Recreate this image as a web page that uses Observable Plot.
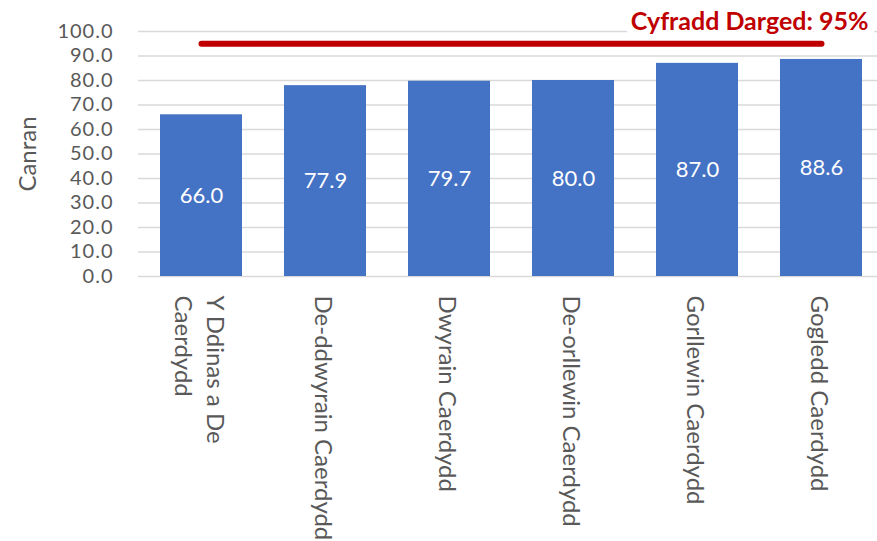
<!DOCTYPE html>
<html>
<head>
<meta charset="utf-8">
<script src="https://cdn.jsdelivr.net/npm/d3@7"></script>
<script src="https://cdn.jsdelivr.net/npm/@observablehq/plot@0.6"></script>
<style>
  html, body { margin: 0; padding: 0; background: #fff; }
  g[aria-label="y-axis tick label"] text { letter-spacing: 1px; }
</style>
</head>
<body>
<div id="chart"></div>
<script>
const categories = ["Y Ddinas a De\nCaerdydd", "De-ddwyrain Caerdydd", "Dwyrain Caerdydd", "De-orllewin Caerdydd", "Gorllewin Caerdydd", "Gogledd Caerdydd"];
const values = [66.0, 77.9, 79.7, 80.0, 87.0, 88.6];
const yTicks = [0, 10, 20, 30, 40, 50, 60, 70, 80, 90, 100];
const target = 95;
const targetLabel = "Cyfradd Darged: 95%";
const yLabel = "Canran";

const data = categories.map((c, i) => ({cat: c, val: values[i]}));
const targetLine = [categories[0], categories[categories.length - 1]].map(c => ({cat: c, val: target}));

const chart = Plot.plot({
  width: 877,
  height: 541,
  marginLeft: 138,
  marginRight: -6,
  marginTop: 31,
  marginBottom: 265,
  style: {fontFamily: "Lato", fontSize: "24px", color: "#595959", background: "#fff"},
  x: {domain: categories, paddingInner: 0.34, paddingOuter: 0.17},
  y: {domain: [0, 100]},
  marks: [
    Plot.gridY(yTicks, {stroke: "#d9d9d9", strokeOpacity: 1, strokeWidth: 1.5}),
    Plot.text([targetLabel], {
      frameAnchor: "top-right", dx: -15, dy: -19, text: d => d,
      fill: "#c00000", fontWeight: "bold", fontSize: 25, textAnchor: "end",
      stroke: "#fff", strokeWidth: 16, paintOrder: "stroke"
    }),
    Plot.barY(data, {x: "cat", y: "val", fill: "#4472c4"}),
    Plot.text(data, {x: "cat", y: d => d.val / 2, text: d => d3.format(".1f")(d.val), fill: "#fff", fontSize: 22}),
    Plot.line(targetLine, {x: "cat", y: "val", stroke: "#c00000", strokeWidth: 6, strokeLinecap: "round"}),
    Plot.axisY({ticks: yTicks, tickFormat: d3.format(".1f"), tickSize: 0, tickPadding: 25, fontSize: 20, label: null}),
    Plot.axisY({ticks: [], tickSize: 0, fontSize: 24,
      label: yLabel, labelAnchor: "center", labelArrow: "none", labelOffset: 120}),
    Plot.axisX({tickRotate: 90, tickSize: 0, tickPadding: 19, fontSize: 24, lineHeight: 1.35, label: null})
  ]
});
document.getElementById("chart").appendChild(chart);
</script>
</body>
</html>
